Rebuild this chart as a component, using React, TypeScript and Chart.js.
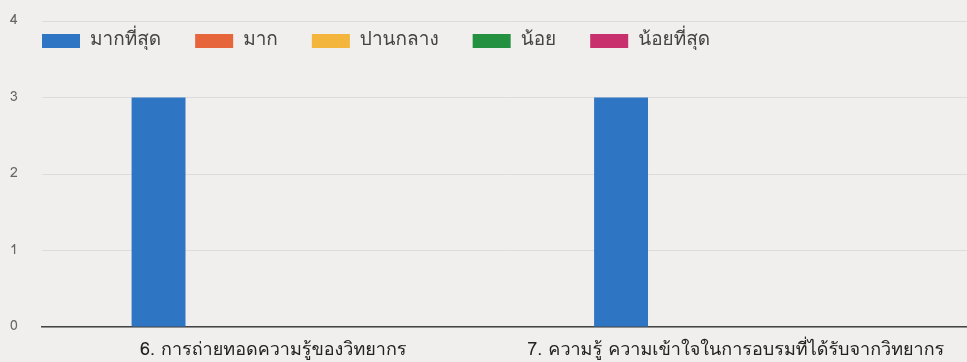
import React, { useEffect, useRef } from "react";
import { Chart, registerables } from "chart.js";

Chart.register(...registerables);

const categories: string[] = [
  "6. การถ่ายทอดความรู้ของวิทยากร",
  "7. ความรู้ ความเข้าใจในการอบรมที่ได้รับจากวิทยากร",
];
const seriesNames: string[] = ["มากที่สุด", "มาก", "ปานกลาง", "น้อย", "น้อยที่สุด"];
const seriesColors: string[] = ["#2e76c4", "#e6653a", "#f3b53c", "#23913f", "#c7306c"];
const mostValues: number[] = [3, 3];
const muchValues: number[] = [0, 0];
const mediumValues: number[] = [0, 0];
const littleValues: number[] = [0, 0];
const leastValues: number[] = [0, 0];
const yTicks: number[] = [0, 1, 2, 3, 4];

const FONT = 'Garuda, Loma, Waree, Tahoma, Roboto, "Noto Sans", sans-serif';

const topLegend = {
  id: "topLegend",
  afterDraw(chart: any) {
    const ctx = chart.ctx;
    let x = chart.chartArea.left;
    const y = 41;
    ctx.save();
    ctx.font = `19px ${FONT}`;
    ctx.textBaseline = "middle";
    ctx.textAlign = "left";
    chart.data.datasets.forEach((ds: any) => {
      ctx.fillStyle = ds.backgroundColor;
      ctx.fillRect(x, y - 7, 38, 14);
      x += 48;
      ctx.fillStyle = "#444";
      ctx.fillText(ds.label, x, y);
      x += ctx.measureText(ds.label).width + 34;
    });
    ctx.restore();
  },
};

export default function App() {
  const ref = useRef<HTMLCanvasElement>(null);
  useEffect(() => {
    document.body.style.margin = "0";
    const values = [mostValues, muchValues, mediumValues, littleValues, leastValues];
    const chart = new Chart(ref.current!, {
      type: "bar",
      data: {
        labels: categories,
        datasets: seriesNames.map((name, i) => ({
          label: name,
          data: values[i],
          backgroundColor: seriesColors[i],
          borderWidth: 0,
          categoryPercentage: 0.62,
          barPercentage: 0.94,
        })),
      },
      options: {
        animation: false,
        responsive: false,
        maintainAspectRatio: false,
        layout: { padding: { left: 10, right: 0, top: 21, bottom: 0 } },
        plugins: { legend: { display: false }, tooltip: { enabled: false } },
        scales: {
          x: {
            grid: { display: false, drawTicks: false },
            border: { display: true, color: "#444", width: 1.5 },
            ticks: { color: "#222", font: { size: 18, family: FONT }, padding: 13, maxRotation: 0 },
            afterFit: (axis: any) => {
              axis.height = 35;
            },
          },
          y: {
            min: 0,
            max: 4,
            afterBuildTicks: (axis: any) => {
              axis.ticks = yTicks.map((v) => ({ value: v }));
            },
            afterFit: (axis: any) => {
              axis.width = 32;
            },
            grid: { color: "#dddcda", drawTicks: false },
            border: { display: false },
            ticks: { color: "#666", font: { size: 14, family: FONT }, padding: 0, crossAlign: "far" },
          },
        },
      },
      plugins: [topLegend],
    });
    return () => chart.destroy();
  }, []);
  return (
    <div style={{ width: 967, height: 362, background: "#f0efed" }}>
      <canvas ref={ref} width={967} height={362} />
    </div>
  );
}
